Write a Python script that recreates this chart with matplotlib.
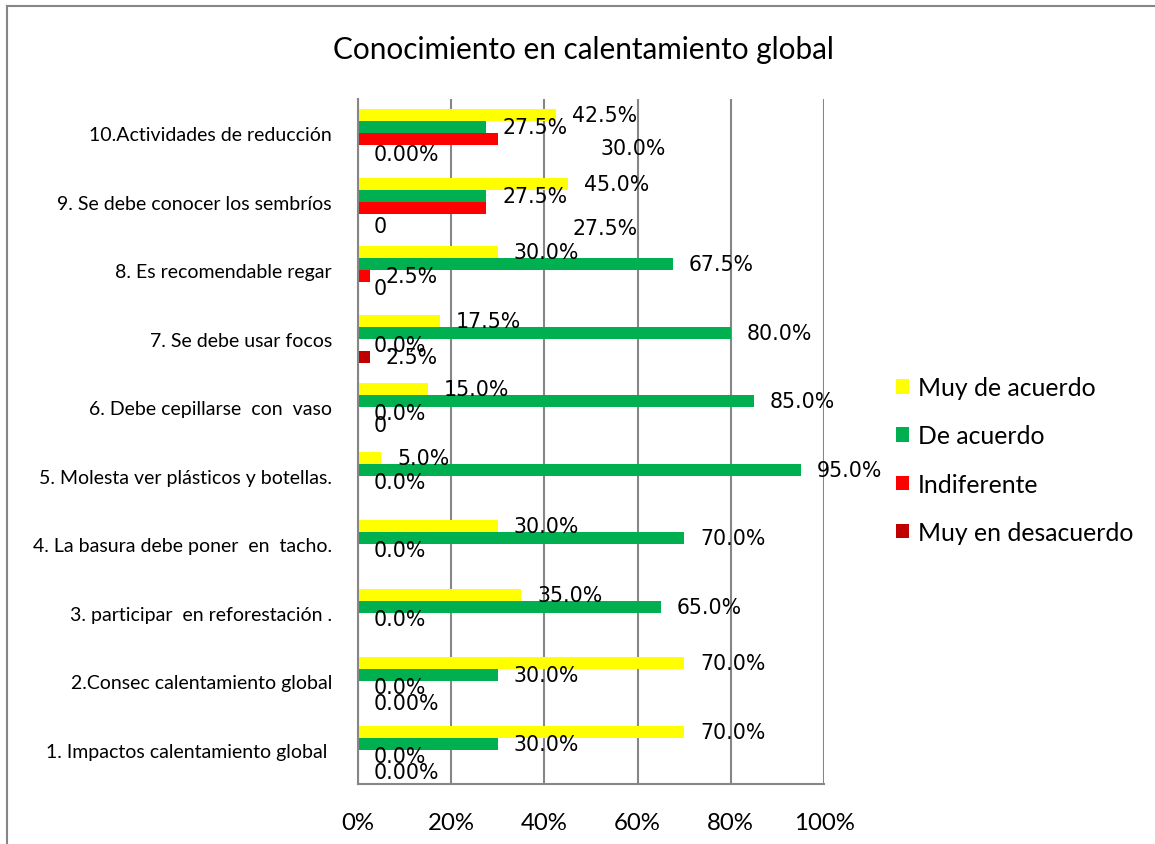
import matplotlib
matplotlib.use('Agg')
import matplotlib.pyplot as plt
from matplotlib.patches import Patch
from matplotlib.lines import Line2D
import numpy as np

categories = ["1. Impactos calentamiento global ", "2.Consec calentamiento global",
              "3. participar  en reforestación .", "4. La basura debe poner  en  tacho.",
              "5. Molesta ver plásticos y botellas.", "6. Debe cepillarse  con  vaso",
              "7. Se debe usar focos", "8. Es recomendable regar",
              "9. Se debe conocer los sembríos", "10.Actividades de reducción"]
series_names = ["Muy de acuerdo", "De acuerdo", "Indiferente", "Muy en desacuerdo"]

muy_de_acuerdo = [70, 70, 35, 30, 5, 15, 17.5, 30, 45, 42.5]
de_acuerdo = [30, 30, 65, 70, 95, 85, 80, 67.5, 27.5, 27.5]
indiferente = [0, 0, 0, 0, 0, 0, 0, 2.5, 27.5, 30]
muy_desacuerdo = [0, 0, 0, 0, 0, 0, 2.5, 0, 0, 0]

lab_muy = ["70.0%", "70.0%", "35.0%", "30.0%", "5.0%", "15.0%", "17.5%", "30.0%", "45.0%", "42.5%"]
lab_de = ["30.0%", "30.0%", "65.0%", "70.0%", "95.0%", "85.0%", "80.0%", "67.5%", "27.5%", "27.5%"]
lab_ind = ["0.0%", "0.0%", "0.0%", "0.0%", "0.0%", "0.0%", "0.0%", "2.5%", "27.5%", "30.0%"]
lab_des = ["0.00%", "0.00%", None, None, None, "0", "2.5%", "0", "0", "0.00%"]

xticks = [0, 20, 40, 60, 80, 100]
xtick_labels = ["0%", "20%", "40%", "60%", "80%", "100%"]

colors = ["#FFFF00", "#00B050", "#FF0000", "#C00000"]
grid_col = "#868686"
cat_font = "Lato"
num_font = "DejaVu Sans"

values = [muy_de_acuerdo, de_acuerdo, indiferente, muy_desacuerdo]
labels = [lab_muy, lab_de, lab_ind, lab_des]

# labels that were dragged by hand in the original (series, category): extra px offset
moved = {(2, 9): (87, 9), (2, 8): (70, 20), (3, 8): (0, 6), (3, 1): (0, 4), (3, 0): (0, 4),
         (3, 9): (0, 3)}

fig = plt.figure(figsize=(11.55, 8.45), dpi=100)
ax = fig.add_axes([358 / 1155, 1 - 785 / 845, (824 - 358) / 1155, (785 - 100) / 845])

y = np.arange(len(categories))
h = 0.175
for k, (vals, labs) in enumerate(zip(values, labels)):
    yy = y + (1.5 - k) * h
    ax.barh(yy, vals, height=h, color=colors[k], zorder=3)
    for i in range(len(categories)):
        if labs[i] is None:
            continue
        dx, dy = moved.get((k, i), (0, 0))
        ax.annotate(labs[i], (vals[i], yy[i]), xytext=(16 + dx, -dy),
                    textcoords='offset pixels', ha='left', va='center',
                    fontsize=14.8, family=num_font, color='black', zorder=5,
                    annotation_clip=False)

ax.set_xlim(0, 100)
ax.set_ylim(-0.5, len(categories) - 0.5)
ax.set_xticks(xticks)
ax.set_xticklabels(xtick_labels, family=cat_font, fontsize=17.3)
ax.set_yticks(y)
ax.set_yticklabels(categories, family=cat_font, fontsize=14)
ax.tick_params(axis='both', length=0)
ax.tick_params(axis='x', pad=20.5)
ax.tick_params(axis='y', pad=18.7)
ax.xaxis.grid(True, color=grid_col, linewidth=1.5, zorder=0)
for side in ['top', 'right']:
    ax.spines[side].set_visible(False)
for side in ['left', 'bottom']:
    ax.spines[side].set_color(grid_col)
    ax.spines[side].set_linewidth(1.5)
    ax.spines[side].set_zorder(4)

fig.text(583 / 1155, 1 - 50 / 845, "Conocimiento en calentamiento global",
         ha='center', va='center', family=cat_font, fontsize=21.4)

handles = [Patch(facecolor=c, edgecolor='none') for c in colors]
fig.legend(handles, series_names, loc='center left', bbox_to_anchor=(874 / 1155, 1 - 461 / 845),
           frameon=False, prop={'family': cat_font, 'size': 17.8}, handlelength=0.53,
           handleheight=0.53, handletextpad=0.33, labelspacing=1.02)

# chart frame
fig.add_artist(Line2D([7 / 1155, 7 / 1155], [0, 1 - 7 / 845], transform=fig.transFigure,
                      color=grid_col, linewidth=1.5))
fig.add_artist(Line2D([7 / 1155, 1], [1 - 7 / 845, 1 - 7 / 845], transform=fig.transFigure,
                      color=grid_col, linewidth=1.5))

fig.savefig("out.png", dpi=100)
